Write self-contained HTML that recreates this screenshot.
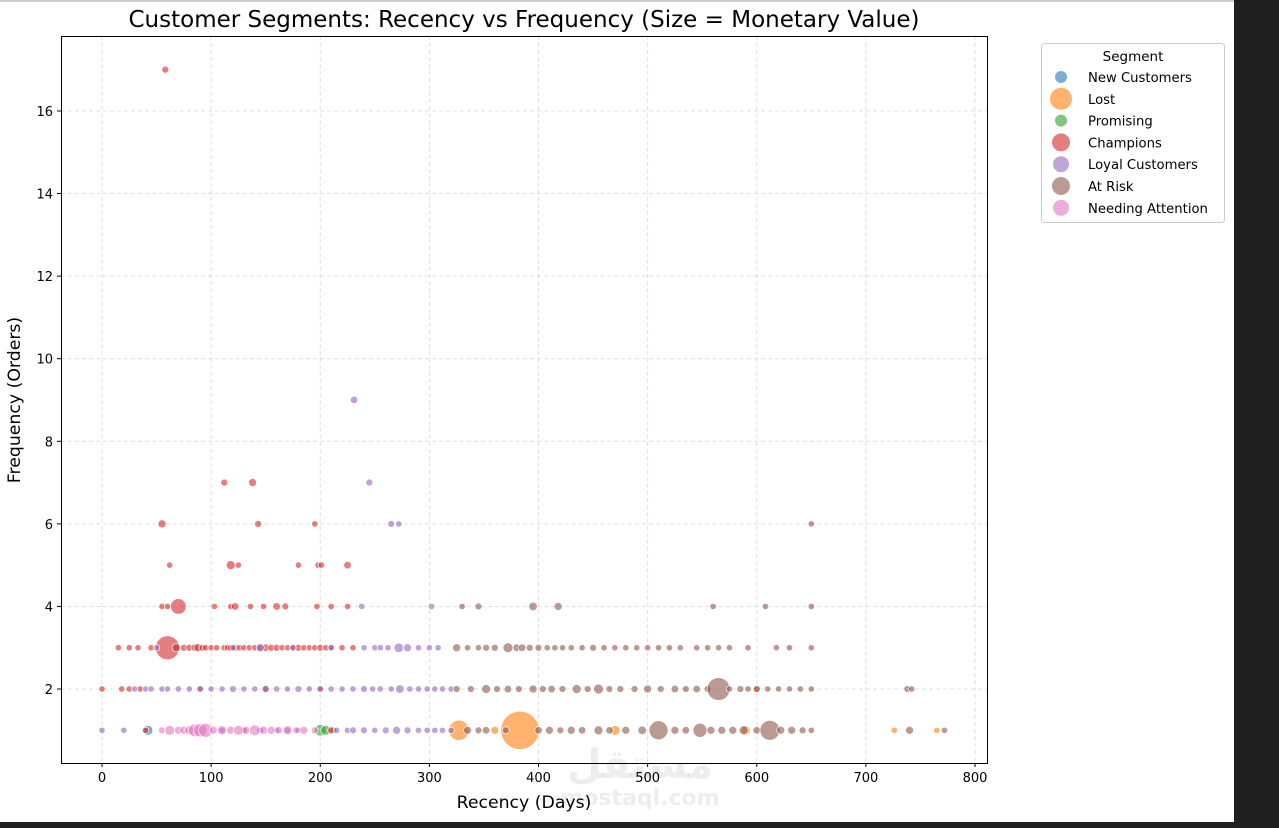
<!DOCTYPE html>
<html><head><meta charset="utf-8"><style>
body{margin:0;background:#fff;width:1279px;height:828px;overflow:hidden;font-family:"DejaVu Sans","Liberation Sans",sans-serif;}
</style></head><body>
<svg id="chart" width="1279" height="828" style="position:absolute;left:0;top:0">
<rect x="0" y="0" width="1279" height="828" fill="#fff"/>
<rect x="0" y="0" width="1279" height="2" fill="#ccc"/>
<rect x="1234" y="0" width="45" height="828" fill="#1f1f1f"/>
<rect x="0" y="822" width="1234" height="6" fill="#1f1f1f"/>
<g id="grid"></g><g id="marks"></g><g id="axes"></g>
<text x="524" y="27" font-size="23" text-anchor="middle" fill="#000">Customer Segments: Recency vs Frequency (Size = Monetary Value)</text>
<text x="524" y="808" font-size="17.3" text-anchor="middle">Recency (Days)</text>
<text x="20" y="400" font-size="17.3" text-anchor="middle" transform="rotate(-90 20 400)">Frequency (Orders)</text>
<text x="640" y="778" font-size="40" font-weight="bold" fill="#000" fill-opacity="0.07" text-anchor="middle">مستقل</text>
<text x="640" y="805" font-size="22" font-weight="bold" fill="#000" fill-opacity="0.07" text-anchor="middle">mostaql.com</text>
<g>
<rect x="1041.5" y="43.5" width="183" height="179" rx="3" fill="#fff" stroke="#ccc"/>
<text x="1133" y="61" font-size="13.5" text-anchor="middle">Segment</text>
<g id="legend"></g>
</g>
</svg>
<script>
const xTicks=[0,100,200,300,400,500,600,700,800];
const yTicks=[2,4,6,8,10,12,14,16];
const segNames=["New Customers","Lost","Promising","Champions","Loyal Customers","At Risk","Needing Attention"];
const segColors=["#1f77b4","#ff7f0e","#2ca02c","#d62728","#9467bd","#8c564b","#e377c2"];
// [recency, frequency, monetary]
const newCustomers=[[42,1,60]];
const lost=[[383,1,900],[327,1,250],[726,1,15],[765,1,15],[470,1,60],[590,1,50],[600,2,30],[360,1,40]];
const promising=[[200,1,80],[205,1,60],[212,1,30]];
const champions=[[58,17,30],[55,6,40],[143,6,30],[195,6,20],[112,7,30],[138,7,40],[62,5,25],[118,5,50],[125,5,20],[180,5,25],[198,5,20],[201,5,20],[225,5,35],
[55,4,20],[60,4,25],[70,4,150],[103,4,20],[118,4,25],[122,4,35],[136,4,15],[148,4,25],[160,4,35],[168,4,30],[197,4,15],[210,4,20],[225,4,20],
[15,3,20],[25,3,15],[33,3,15],[45,3,15],[60,3,350],[68,3,40],[75,3,30],[80,3,30],[85,3,35],[88,3,40],[92,3,30],[95,3,25],[100,3,20],[105,3,20],[112,3,20],[115,3,25],[118,3,30],[122,3,30],[126,3,25],[130,3,20],[135,3,20],[140,3,25],[145,3,30],[150,3,35],[155,3,30],[160,3,30],[165,3,25],[170,3,25],[175,3,25],[180,3,30],[185,3,20],[190,3,25],[195,3,20],[200,3,30],[205,3,20],[210,3,20],[220,3,15],[230,3,15],
[0,2,20],[18,2,15],[25,2,20],[35,2,15],[90,2,25],[150,2,30],[200,2,20],[40,1,20],[130,1,25],[210,1,30]];
const loyal=[[231,9,35],[245,7,30],[265,6,30],[272,6,25],[238,4,25],[302,4,20],
[50,3,15],[120,3,20],[145,3,40],[175,3,20],[210,3,25],[240,3,20],[250,3,20],[255,3,20],[262,3,25],[272,3,55],[280,3,40],[290,3,20],[300,3,15],[308,3,25],
[30,2,15],[40,2,15],[45,2,20],[55,2,15],[60,2,20],[70,2,20],[80,2,25],[90,2,20],[100,2,20],[110,2,25],[120,2,30],[130,2,25],[140,2,25],[150,2,30],[160,2,25],[170,2,25],[180,2,30],[190,2,25],[200,2,20],[210,2,25],[220,2,25],[230,2,25],[240,2,30],[248,2,25],[255,2,25],[265,2,25],[273,2,45],[282,2,25],[290,2,25],[298,2,25],[305,2,20],[312,2,20],[320,2,20],
[0,1,15],[20,1,15],[110,1,25],[145,1,30],[160,1,25],[170,1,25],[180,1,25],[215,1,25],[225,1,25],[230,1,30],[240,1,30],[250,1,25],[260,1,30],[270,1,40],[280,1,30],[290,1,25],[298,1,25],[305,1,25],[312,1,25],[320,1,25]];
const atRisk=[[650,6,15],[330,4,20],[345,4,30],[395,4,45],[418,4,40],[560,4,15],[608,4,25],[650,4,15],
[325,3,40],[335,3,25],[345,3,25],[352,3,30],[360,3,30],[372,3,60],[380,3,35],[385,3,35],[392,3,30],[400,3,30],[408,3,25],[415,3,25],[422,3,20],[430,3,25],[440,3,20],[450,3,30],[460,3,20],[470,3,20],[480,3,20],[490,3,20],[500,3,20],[510,3,25],[520,3,20],[530,3,25],[545,3,20],[555,3,20],[565,3,25],[575,3,15],[592,3,20],[618,3,20],[630,3,20],[650,3,15],
[325,2,30],[338,2,30],[352,2,50],[362,2,30],[372,2,35],[382,2,30],[395,2,40],[404,2,30],[412,2,35],[422,2,30],[435,2,50],[445,2,30],[455,2,60],[465,2,30],[475,2,30],[488,2,30],[500,2,40],[512,2,30],[525,2,35],[535,2,30],[545,2,35],[555,2,30],[565,2,320],[575,2,25],[585,2,30],[592,2,25],[600,2,30],[610,2,25],[620,2,25],[630,2,20],[640,2,20],[650,2,15],[738,2,30],[742,2,20],
[335,1,40],[345,1,30],[352,1,35],[370,1,30],[400,1,35],[410,1,40],[420,1,30],[430,1,40],[440,1,35],[455,1,50],[465,1,35],[480,1,40],[495,1,45],[510,1,220],[525,1,40],[535,1,35],[548,1,120],[558,1,40],[568,1,40],[578,1,40],[588,1,50],[600,1,35],[612,1,240],[622,1,40],[632,1,40],[642,1,30],[650,1,20],[740,1,40],[772,1,15]];
const needingAttention=[[55,1,30],[62,1,60],[70,1,40],[75,1,40],[80,1,50],[85,1,100],[90,1,110],[95,1,120],[102,1,40],[110,1,50],[118,1,40],[125,1,60],[132,1,40],[140,1,70],[148,1,40],[155,1,40],[162,1,35],[170,1,50],[178,1,30],[185,1,40],[195,1,30]];
const segData=[newCustomers,lost,promising,champions,loyal,atRisk,needingAttention];

const X0=61,X1=987,Y0=36,Y1=763;
const xs=v=>102+v*(975-102)/800;
const ys=v=>771.6-v*41.29;
const rs=m=>Math.max(3.2,Math.sqrt(m)*0.64);
const NS="http://www.w3.org/2000/svg";
function mk(t,a,p){const e=document.createElementNS(NS,t);for(const k in a)e.setAttribute(k,a[k]);p.appendChild(e);return e;}
const grid=document.getElementById('grid'),axes=document.getElementById('axes'),marks=document.getElementById('marks'),legend=document.getElementById('legend');
xTicks.forEach(t=>{const x=xs(t);
 const g=mk('line',{x1:x,x2:x,y1:Y0,y2:Y1,stroke:'#b0b0b0','stroke-dasharray':'4,3','stroke-opacity':0.4},grid);
 
 mk('line',{x1:x,x2:x,y1:Y1,y2:Y1+4,stroke:'#000'},axes);
 const l=mk('text',{x:x,y:Y1+19,'font-size':13,'text-anchor':'middle'},axes);l.textContent=t;
 });
yTicks.forEach(t=>{const y=ys(t);
 const g=mk('line',{x1:X0,x2:X1,y1:y,y2:y,stroke:'#b0b0b0','stroke-dasharray':'4,3','stroke-opacity':0.4},grid);
 
 mk('line',{x1:X0-4,x2:X0,y1:y,y2:y,stroke:'#000'},axes);
 const l=mk('text',{x:X0-8,y:y+5,'font-size':13,'text-anchor':'end'},axes);l.textContent=t;
 });
const fr=mk('rect',{x:X0+0.5,y:Y0+0.5,width:X1-X0,height:Y1-Y0,fill:'none',stroke:'#000'},axes);

segData.forEach((arr,i)=>{arr.forEach(p=>{
 const c=mk('circle',{cx:xs(p[0]),cy:ys(p[1]),r:rs(p[2]),fill:segColors[i],'fill-opacity':0.6,stroke:'#fff','stroke-width':0.7},marks);
 
 });});
const legR=[6,11,6,9,8,9,8];
segNames.forEach((n,i)=>{const y=77+i*21.8;
 const c=mk('circle',{cx:1061,cy:y,r:legR[i],fill:segColors[i],'fill-opacity':0.6},legend);
 
 const t=mk('text',{x:1088,y:y+5,'font-size':13.2},legend);t.textContent=n;
 });
</script>
</body></html>
